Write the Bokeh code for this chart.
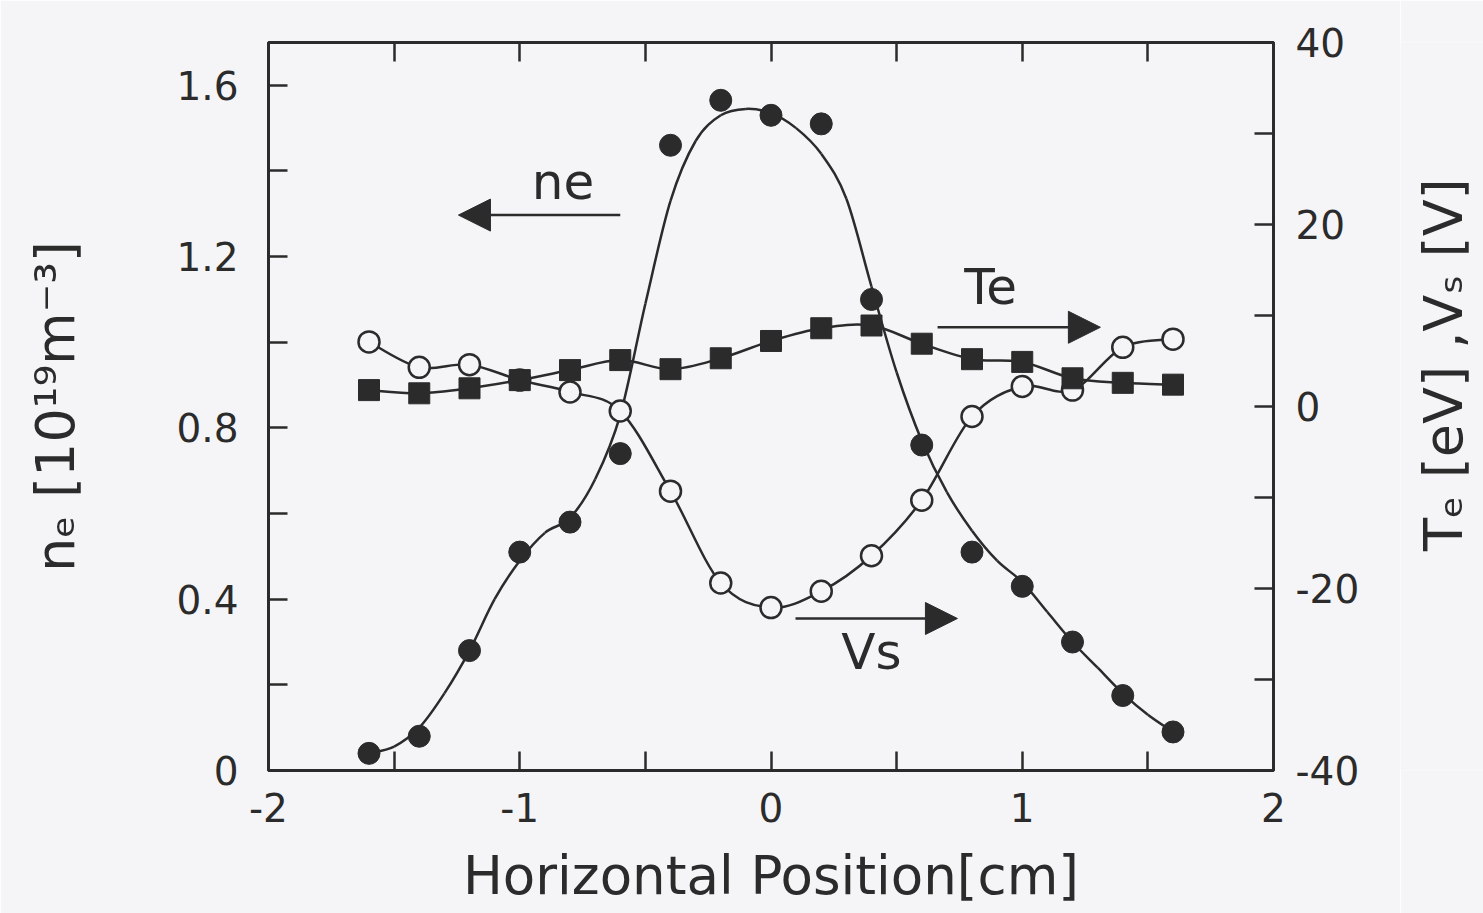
import numpy as np
from bokeh.plotting import figure
from bokeh.layouts import row
from bokeh.models import (Range1d, LinearAxis, FixedTicker, Arrow, NormalHead,
                          Label, ColumnDataSource)
from bokeh.embed import file_html
from bokeh.resources import INLINE

# Probe positions across the plasma column (cm)
position = [-1.6, -1.4, -1.2, -1.0, -0.8, -0.6, -0.4, -0.2, 0.0,
            0.2, 0.4, 0.6, 0.8, 1.0, 1.2, 1.4, 1.6]

# Electron density (10^19 m^-3)
ne_points = [0.04, 0.08, 0.28, 0.51, 0.58, 0.74, 1.46, 1.565, 1.53,
             1.51, 1.10, 0.76, 0.51, 0.43, 0.30, 0.175, 0.09]

# Smoothed density profile
ne_fit_position = [-1.6, -1.5, -1.4, -1.3, -1.2, -1.1, -1.0, -0.9, -0.8, -0.7, -0.6,
                   -0.5, -0.4, -0.3, -0.2, -0.1, 0.0, 0.1, 0.2, 0.3, 0.4, 0.5,
                   0.6, 0.7, 0.8, 0.9, 1.0, 1.1, 1.2, 1.3, 1.4, 1.5, 1.6]
ne_fit = [0.04, 0.056, 0.10, 0.18, 0.28, 0.40, 0.49, 0.555, 0.59, 0.68, 0.83,
          1.09, 1.33, 1.47, 1.53, 1.545, 1.535, 1.50, 1.44, 1.335, 1.13, 0.93,
          0.77, 0.65, 0.56, 0.49, 0.44, 0.37, 0.30, 0.24, 0.18, 0.13, 0.09]

# Electron temperature (eV)
te_points = [1.8, 1.45, 2.0, 2.9, 4.0, 5.1, 4.1, 5.3, 7.2,
             8.6, 8.9, 6.9, 5.2, 4.9, 3.1, 2.6, 2.4]

# Space potential (V)
vs_points = [7.1, 4.3, 4.6, 2.9, 1.6, -0.5, -9.3, -19.4, -22.1,
             -20.3, -16.4, -10.3, -1.1, 2.2, 1.8, 6.5, 7.4]

x_ticks = [-2, -1, 0, 1, 2]
x_tick_labels = ["-2", "-1", "0", "1", "2"]
x_minor_ticks = [-1.5, -0.5, 0.5, 1.5]
ne_ticks = [0, 0.4, 0.8, 1.2, 1.6]
ne_tick_labels = ["0", "0.4", "0.8", "1.2", "1.6"]
ne_minor_ticks = [0.2, 0.6, 1.0, 1.4]
right_ticks = [-40, -20, 0, 20, 40]
right_tick_labels = ["-40", "-20", "0", "20", "40"]
right_minor_ticks = [-30, -10, 10, 30]

BG = "#f5f5f7"
INK = "#2b2b2b"
FONT = "DejaVu Sans"
HEIGHT = 913
MAIN_WIDTH = 1400
TITLE_STRIP = 83


def smooth_segments(xs, ys):
    """Cubic Bezier pieces of a Catmull-Rom curve through the given points."""
    px = np.concatenate([[xs[0]], np.asarray(xs, float), [xs[-1]]])
    py = np.concatenate([[ys[0]], np.asarray(ys, float), [ys[-1]]])
    x0, y0 = px[1:-2], py[1:-2]
    x1, y1 = px[2:-1], py[2:-1]
    return dict(
        x0=x0, y0=y0, x1=x1, y1=y1,
        cx0=x0 + (px[2:-1] - px[:-3]) / 6, cy0=y0 + (py[2:-1] - py[:-3]) / 6,
        cx1=x1 - (px[3:] - px[1:-2]) / 6, cy1=y1 - (py[3:] - py[1:-2]) / 6,
    )


p = figure(width=MAIN_WIDTH, height=HEIGHT, x_range=Range1d(-2, 2), y_range=Range1d(0, 1.7),
           output_backend="svg", toolbar_location=None,
           min_border_left=268, min_border_right=127,
           min_border_top=42, min_border_bottom=143,
           background_fill_color=BG, border_fill_color=BG)
p.extra_y_ranges = {"right": Range1d(-40, 40)}
p.grid.visible = False
p.outline_line_color = INK
p.outline_line_width = 3


def style_axis(ax):
    ax.axis_line_color = INK
    ax.axis_line_width = 3
    for kind in ("major", "minor"):
        setattr(ax, f"{kind}_tick_line_color", INK)
        setattr(ax, f"{kind}_tick_line_width", 2.5)
        setattr(ax, f"{kind}_tick_in", 19)
        setattr(ax, f"{kind}_tick_out", 0)
    ax.major_label_text_font = FONT
    ax.major_label_text_font_size = "39px"
    ax.major_label_text_color = INK
    ax.axis_label_text_font = FONT
    ax.axis_label_text_font_style = "normal"
    ax.axis_label_text_color = INK
    ax.axis_label_text_font_size = "54px"


xb = p.xaxis[0]
xb.ticker = FixedTicker(ticks=x_ticks, minor_ticks=x_minor_ticks)
xb.major_label_overrides = dict(zip(x_ticks, x_tick_labels))
xb.axis_label = "Horizontal Position[cm]"
style_axis(xb)
xb.major_label_standoff = 22
xb.axis_label_standoff = 20
xb.axis_label_text_font_size = "53px"

yl = p.yaxis[0]
yl.ticker = FixedTicker(ticks=ne_ticks, minor_ticks=ne_minor_ticks)
yl.major_label_overrides = dict(zip(ne_ticks, ne_tick_labels))
yl.axis_label = "nₑ [10¹⁹m⁻³]"
style_axis(yl)
yl.major_label_standoff = 30
yl.axis_label_standoff = 86

yr = LinearAxis(y_range_name="right",
                ticker=FixedTicker(ticks=right_ticks, minor_ticks=right_minor_ticks))
yr.major_label_overrides = dict(zip(right_ticks, right_tick_labels))
style_axis(yr)
yr.major_label_standoff = 22
p.add_layout(yr, "right")

top_ticks = x_minor_ticks + x_ticks[1:-1]
xt = LinearAxis(ticker=FixedTicker(ticks=top_ticks))
xt.major_label_overrides = {t: "" for t in top_ticks}
style_axis(xt)
xt.major_label_standoff = 0
p.add_layout(xt, "above")

# Curves
p.bezier(source=ColumnDataSource(smooth_segments(ne_fit_position, ne_fit)),
         x0="x0", y0="y0", x1="x1", y1="y1", cx0="cx0", cy0="cy0", cx1="cx1", cy1="cy1",
         line_color=INK, line_width=2.5)
p.bezier(source=ColumnDataSource(smooth_segments(position, vs_points)),
         x0="x0", y0="y0", x1="x1", y1="y1", cx0="cx0", cy0="cy0", cx1="cx1", cy1="cy1",
         line_color=INK, line_width=2.5, y_range_name="right")
p.bezier(source=ColumnDataSource(smooth_segments(position, te_points)),
         x0="x0", y0="y0", x1="x1", y1="y1", cx0="cx0", cy0="cy0", cx1="cx1", cy1="cy1",
         line_color=INK, line_width=2.5, y_range_name="right")

# Markers
p.scatter(position, vs_points, marker="circle", size=21, fill_color=BG,
          line_color=INK, line_width=2.5, y_range_name="right")
p.scatter(position, ne_points, marker="circle", size=22, fill_color=INK,
          line_color=INK)
p.scatter(position, te_points, marker="square", size=21, fill_color=INK,
          line_color=INK, y_range_name="right")

# Series annotations: label (x, y) and arrow (x start, x end, y)
head = dict(size=32, fill_color=INK, line_color=INK, line_width=1)
notes = [("ne", -0.828, 1.374, -0.60, -1.244, 1.297),
         ("Te", 0.874, 1.128, 0.663, 1.311, 1.035),
         ("Vs", 0.400, 0.276, 0.0975, 0.742, 0.355)]
for text, tx, ty, xs, xe, ya in notes:
    p.add_layout(Label(x=tx, y=ty, text=text, text_align="center",
                       text_baseline="middle", text_font=FONT,
                       text_font_size="50px", text_color=INK))
    p.add_layout(Arrow(end=NormalHead(**head), x_start=xs, y_start=ya,
                       x_end=xe, y_end=ya, line_color=INK, line_width=2.5))

# Narrow strip carrying the right-hand axis title, reading upward
strip = figure(width=TITLE_STRIP, height=HEIGHT,
               x_range=Range1d(0, TITLE_STRIP), y_range=Range1d(0, HEIGHT),
               output_backend="svg", toolbar_location=None,
               x_axis_location=None, y_axis_location=None,
               min_border=0, outline_line_color=None,
               background_fill_color=BG, border_fill_color=BG)
strip.grid.visible = False
strip.add_layout(Label(x=43, y=HEIGHT - 404, text="Tₑ [eV] ,Vₛ [V]", angle=np.pi / 2,
                       text_align="center", text_baseline="middle", text_font=FONT,
                       text_font_size="54px", text_color=INK))

open("out.html", "w").write(file_html(row(p, strip, spacing=0), INLINE))
